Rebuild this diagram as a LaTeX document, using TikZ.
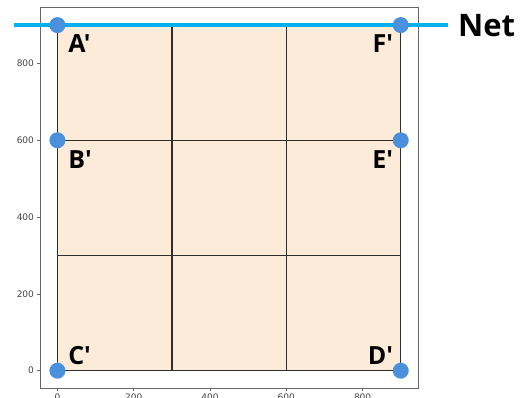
\documentclass[tikz,border=0pt]{standalone}
\usepackage{fontspec}
\setmainfont{Open Sans}
\newfontfamily\lblfont{Open Sans}[Ligatures=TeXOff]
\newfontfamily\tickfont{DejaVu Sans}
\definecolor{cellfill}{HTML}{FDEBD9}
\definecolor{netblue}{HTML}{00B0F0}
\definecolor{dotblue}{HTML}{4A90DC}
\definecolor{gridline}{HTML}{2E2E2E}
\definecolor{framegray}{HTML}{666666}
\definecolor{ticktext}{HTML}{444444}
\tikzset{
  gridln/.style={draw=gridline, line width=1.4pt},
  pin/.style={circle, fill=dotblue, inner sep=0pt, minimum size=16pt},
  lbl/.style={font=\lblfont\bfseries\fontsize{25}{25}\selectfont, inner sep=0pt, text=black},
  ticklbl/.style={font=\tickfont\fontsize{9}{9}\selectfont, text=ticktext, inner sep=0pt},
  tickmark/.style={draw=framegray, line width=0.6pt},
}
\begin{document}
\begin{tikzpicture}[x=1pt,y=1pt]
\useasboundingbox (0,0) rectangle (523,397);
\clip (0,0) rectangle (523,397);
\fill[white] (0,0) rectangle (523,397);
\begin{scope}[shift={(57.4pt,26.3pt)}, x=0.3815pt, y=0.384pt]
  % axes frame
  \draw[framegray, line width=0.8pt] (-45,-45) rectangle (945,945);
  % filled square
  \fill[cellfill] (0,0) rectangle (900,900);
  % grid
  \foreach \v in {300,600} {
    \draw[gridln] (\v,0) -- (\v,900);
    \draw[gridln] (0,\v) -- (900,\v);
  }
  \draw[gridln] (0,0) rectangle (900,900);
  % y ticks
  \foreach \v in {0,200,400,600,800} {
    \draw[tickmark] (-45,\v) -- ++(-3.5pt,0) node[ticklbl, anchor=east, xshift=-2.5pt] {\v};
  }
  % x ticks
  \foreach \v in {0,200,400,600,800} {
    \draw[tickmark] (\v,-45) -- ++(0,-3.5pt) node[ticklbl, anchor=north, yshift=-2.5pt] {\v};
  }
  % net line
  \coordinate (netL) at (-113,900);
  \coordinate (netR) at (1025,900);
  \draw[netblue, line width=4.5pt] (netL) -- (netR);
  \node[font=\lblfont\bfseries\fontsize{31}{31}\selectfont, anchor=west, inner sep=0pt] (net) at (1050,900) {Net};
  % pins
  \node[pin] (A) at (0,900) {};
  \node[pin] (B) at (0,600) {};
  \node[pin] (C) at (0,0) {};
  \node[pin] (D) at (900,0) {};
  \node[pin] (E) at (900,600) {};
  \node[pin] (F) at (900,900) {};
  % labels
  \node[lbl, anchor=west] (lA) at (28,852) {A'};
  \node[lbl, anchor=west] (lB) at (28,550) {B'};
  \node[lbl, anchor=west] (lC) at (28,40) {C'};
  \node[lbl, anchor=east] (lF) at (880,852) {F'};
  \node[lbl, anchor=east] (lE) at (880,550) {E'};
  \node[lbl, anchor=east] (lD) at (880,40) {D'};
\end{scope}
\end{tikzpicture}
\end{document}
